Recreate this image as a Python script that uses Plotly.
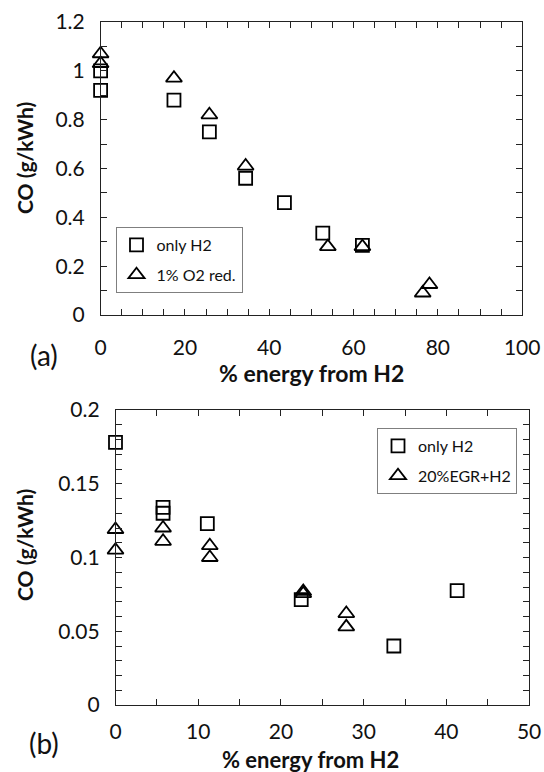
import plotly.graph_objects as go

# Panel (a): CO emissions vs share of energy from H2
a_h2_x = [0, 0, 17.4, 25.8, 34.4, 43.6, 52.7, 62.1]
a_h2_y = [1.00, 0.92, 0.88, 0.75, 0.56, 0.46, 0.335, 0.285]
a_o2_x = [0, 0, 17.4, 25.8, 34.4, 53.9, 62.1, 76.4, 78.0]
a_o2_y = [1.07, 1.03, 0.97, 0.82, 0.61, 0.28, 0.28, 0.09, 0.125]

# Panel (b)
b_h2_x = [0, 5.75, 5.75, 11.1, 22.45, 33.65, 41.3]
b_h2_y = [0.178, 0.134, 0.130, 0.123, 0.0715, 0.040, 0.0775]
b_egr_x = [0, 0, 5.75, 5.75, 11.4, 11.4, 22.7, 22.7, 27.9, 27.9]
b_egr_y = [0.119, 0.105, 0.120, 0.111, 0.108, 0.100, 0.077, 0.0755, 0.062, 0.053]

# Tick positions / labels
a_xticks = list(range(0, 101, 5))
a_xlabels = [str(v) if v % 20 == 0 else "" for v in a_xticks]
a_yticks = [round(i * 0.1, 1) for i in range(13)]
a_ylabels = ["0", "", "0.2", "", "0.4", "", "0.6", "", "0.8", "", "1", "", "1.2"]
b_xticks = list(range(0, 51, 5))
b_xlabels = [str(v) if v % 10 == 0 else "" for v in b_xticks]
b_yticks = [round(i * 0.01, 2) for i in range(21)]
b_ylabels = ["0" if i == 0 else (f"{i*0.01:g}" if i % 5 == 0 else "") for i in range(21)]

W, H = 544, 772
FONT = "Lato"
PAD = "\u2002"  # spacer between y tick labels and the axis line

sq = dict(symbol="square-open", size=13, color="black", line=dict(width=1.8, color="black"))
tri = dict(symbol="triangle-up-open", size=14, color="black", line=dict(width=1.8, color="black"))

fig = go.Figure()
fig.add_trace(go.Scatter(x=a_h2_x, y=a_h2_y, mode="markers", marker=sq, name="only H2",
                         xaxis="x", yaxis="y", legend="legend", legendgroup="a1", cliponaxis=False))
fig.add_trace(go.Scatter(x=a_o2_x, y=a_o2_y, mode="markers", marker=tri, name="1% O2 red.",
                         xaxis="x", yaxis="y", legend="legend", legendgroup="a2", cliponaxis=False))
fig.add_trace(go.Scatter(x=b_h2_x, y=b_h2_y, mode="markers", marker=sq, name="only H2",
                         xaxis="x2", yaxis="y2", legend="legend2", legendgroup="b1", cliponaxis=False))
fig.add_trace(go.Scatter(x=b_egr_x, y=b_egr_y, mode="markers", marker=tri, name="20%EGR+H2",
                         xaxis="x2", yaxis="y2", legend="legend2", legendgroup="b2", cliponaxis=False))

def axis(domain, rng, tickvals, ticktext, anchor, standoff):
    return dict(domain=domain, range=rng, tickmode="array", tickvals=tickvals, ticktext=ticktext,
                ticks="inside", ticklen=6, tickwidth=1, tickcolor="#222", mirror="ticks",
                showline=True, linecolor="#222", linewidth=1.3, showgrid=False, zeroline=False,
                anchor=anchor, automargin=False, ticklabelstandoff=standoff,
                tickfont=dict(family=FONT, size=21, color="#111"))

# plot-area edges in pixels
ax_l, ax_r, ay_t, ay_b = 100.6, 522.2, 22, 315
bx_l, bx_r, by_t, by_b = 115.5, 529.1, 410, 705

legend_style = dict(xanchor="left", yanchor="top", bgcolor="white", bordercolor="#7f7f7f",
                    borderwidth=1, tracegroupgap=6, font=dict(family=FONT, size=16, color="#111"))

fig.update_layout(
    width=W, height=H, margin=dict(l=0, r=0, t=0, b=0),
    paper_bgcolor="white", plot_bgcolor="white",
    xaxis=axis([ax_l / W, ax_r / W], [0, 100], a_xticks, a_xlabels, "y", 14),
    yaxis=axis([1 - ay_b / H, 1 - ay_t / H], [0, 1.2], a_yticks,
               [t + PAD if t else t for t in a_ylabels], "x", 0),
    xaxis2=axis([bx_l / W, bx_r / W], [0, 50], b_xticks, b_xlabels, "y2", 8),
    yaxis2=axis([1 - by_b / H, 1 - by_t / H], [0, 0.2], b_yticks,
                [t + PAD if t else t for t in b_ylabels], "x2", 0),
    legend=dict(x=115.5 / W, y=1 - 227 / H, **legend_style),
    legend2=dict(x=377 / W, y=1 - 428 / H, **legend_style),
    showlegend=True,
)

ann = []
def text(x, y, s, size, bold=False, angle=0):
    ann.append(dict(x=x / W, y=1 - y / H, xref="paper", yref="paper", text=f"<b>{s}</b>" if bold else s,
                    showarrow=False, textangle=angle, xanchor="center", yanchor="middle",
                    font=dict(family=FONT, size=size, color="#111")))

text(311, 373, "% energy from H2", 23, bold=True)
text(24, 158, "CO (g/kWh)", 21, bold=True, angle=-90)
text(44, 355, "(a)", 28)
text(310, 759, "% energy from H2", 22, bold=True)
text(24, 545, "CO (g/kWh)", 21, bold=True, angle=-90)
text(44, 743, "(b)", 28)
fig.update_layout(annotations=ann)

fig.write_html("out.html")
